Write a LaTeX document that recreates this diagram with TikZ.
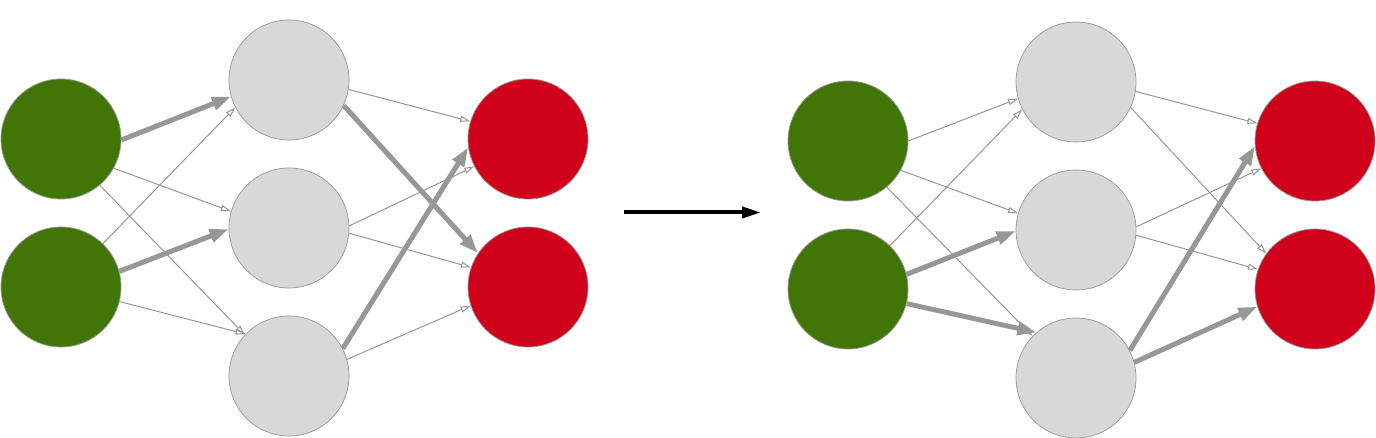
\documentclass[tikz,border=0pt]{standalone}
\usepackage{xcolor}
\usepackage{tikz}
\usetikzlibrary{arrows.meta}

\definecolor{inputgreen}{HTML}{417505}
\definecolor{outputred}{HTML}{D0021B}
\definecolor{hiddengray}{HTML}{D8D8D8}
\definecolor{edgegray}{HTML}{979797}

\begin{document}
\begin{tikzpicture}
\useasboundingbox (0,0) rectangle (27.52,8.76);

\begin{scope}[every node/.style={circle,draw=edgegray,line width=0.4pt,minimum size=2.4cm,inner sep=0pt}]
    % before
    \node[fill=inputgreen] (A1) at (1.22,5.98) {};
    \node[fill=inputgreen] (A2) at (1.22,3.02) {};
    \node[fill=hiddengray] (B1) at (5.78,7.16) {};
    \node[fill=hiddengray] (B2) at (5.78,4.20) {};
    \node[fill=hiddengray] (B3) at (5.78,1.24) {};
    \node[fill=outputred] (C1) at (10.56,5.98) {};
    \node[fill=outputred] (C2) at (10.56,3.02) {};

    % after
    \node[fill=inputgreen] (D1) at (16.96,5.94) {};
    \node[fill=inputgreen] (D2) at (16.96,2.98) {};
    \node[fill=hiddengray] (E1) at (21.52,7.12) {};
    \node[fill=hiddengray] (E2) at (21.52,4.16) {};
    \node[fill=hiddengray] (E3) at (21.52,1.20) {};
    \node[fill=outputred] (F1) at (26.30,5.94) {};
    \node[fill=outputred] (F2) at (26.30,2.98) {};
    \end{scope}

\begin{scope}[>={Triangle[open,length=0.2cm,width=0.12cm]},
              every edge/.style={draw=edgegray,line width=0.02cm},
              heavy/.style={line width=0.1cm,-{Triangle[length=0.38cm,width=0.26cm]}}]
    \path [->] (A1.-1) edge[heavy] (B1.196);
    \path [->] (A2.46) edge (B1.207);
    \path [->] (A1.-29) edge (B2.164);
    \path [->] (A1.-50) edge (B3.137);
    \path [->] (A2.15) edge[heavy] (B2.181);
    \path [->] (A2.-14) edge (B3.136);
    \path [->] (B1.-9) edge (C1.163);
    \path [->] (B1.-25) edge[heavy] (C2.146);
    \path [->] (B2.2) edge (C1.207);
    \path [->] (B2.-5) edge (C2.161);
    \path [->] (B3.27) edge[heavy] (C1.188);
    \path [->] (B3.16) edge (C2.198);

    \path [->] (D1.0) edge (E1.196);
    \path [->] (D2.46) edge (E1.207);
    \path [->] (D1.-29) edge (E2.164);
    \path [->] (D1.-50) edge (E3.136);
    \path [->] (D2.14) edge[heavy] (E2.181);
    \path [->] (D2.-14) edge[heavy] (E3.131);
    \path [->] (E1.-9) edge (F1.163);
    \path [->] (E1.-25) edge (F2.144);
    \path [->] (E2.3) edge (F1.207);
    \path [->] (E2.-5) edge (F2.161);
    \path [->] (E3.27) edge[heavy] (F1.185);
    \path [->] (E3.15) edge[heavy] (F2.197);
    \end{scope}

\coordinate (M1) at (12.48,4.51);
\coordinate (M2) at (15.22,4.51);
\draw [line width=0.08cm,-{Triangle[length=0.38cm,width=0.22cm]}] (M1) -- (M2);

\end{tikzpicture}
\end{document}
